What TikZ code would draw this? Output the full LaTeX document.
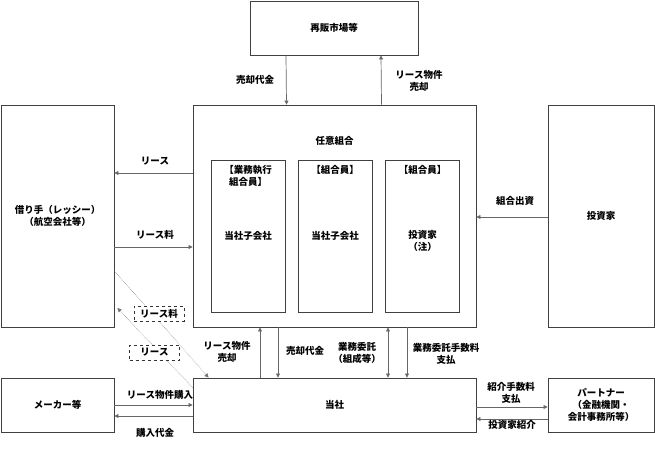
\documentclass[tikz,border=0pt]{standalone}
\usepackage{fontspec}
\setmainfont{Noto Sans CJK JP}
\usetikzlibrary{arrows.meta}

\begin{document}
\begin{tikzpicture}[x=1pt, y=-1pt, font=\fontsize{9.5}{12}\selectfont\bfseries]

  % Define styles
  \tikzstyle{box} = [rectangle, draw=black!75, line width=0.9pt, inner sep=0pt, align=center]
  \tikzstyle{txt} = [align=center, inner sep=1pt]
  \tikzstyle{arr} = [draw=black!60, line width=0.7pt, -{Triangle[length=4pt, width=4pt]}]
  \tikzstyle{dbl} = [draw=black!60, line width=0.7pt, {Triangle[length=4pt, width=4pt]}-{Triangle[length=4pt, width=4pt]}]
  \tikzstyle{dot_arr} = [draw=black!55, densely dotted, line width=0.5pt, -{Triangle[length=4pt, width=4pt]}]
  \tikzstyle{tag} = [rectangle, draw=black!80, dashed, semithick, fill=white, minimum width=50pt, minimum height=15pt, inner sep=0pt]

  \useasboundingbox (0,0) rectangle (655,448);

  % Boxes
  \node[box, minimum width=168pt, minimum height=54pt] (resale) at (334, 28) {再販市場等};
  \node[box, minimum width=283pt, minimum height=222pt] (union) at (334.5, 216) {};
  \node[txt] (union_t) at (334.5, 141) {任意組合};

  \node[box, minimum width=74pt, minimum height=152pt] (gp) at (248, 236) {当社子会社};
  \node[box, minimum width=74pt, minimum height=152pt] (lp1) at (335, 236) {当社子会社};
  \node[box, minimum width=74pt, minimum height=152pt] (lp2) at (422.5, 236) {};
  \node[txt, anchor=north] (gp_t) at ([yshift=-5pt]gp.north) {【業務執行\\組合員】};
  \node[txt, anchor=north] (lp1_t) at ([yshift=-5pt]lp1.north) {【組合員】};
  \node[txt, anchor=north] (lp2_t) at ([yshift=-5pt]lp2.north) {【組合員】};
  \node[txt] (lp2_n) at (422.5, 241) {投資家\\（注）};

  \node[box, minimum width=113pt, minimum height=222pt] (lessee) at (57.5, 216) {借り手（レッシー）\\（航空会社等）};
  \node[box, minimum width=106pt, minimum height=222pt] (investor) at (601, 216) {投資家};
  \node[box, minimum width=113pt, minimum height=54pt] (maker) at (57.5, 405) {メーカー等};
  \node[box, minimum width=283pt, minimum height=54pt] (company) at (334.5, 405) {当社};
  \node[box, minimum width=106pt, minimum height=54pt] (partner) at (601, 405) {パートナー\\（金融機関・\\会計事務所等）};

  % Resale market
  \draw[arr] ([xshift=-48pt]resale.south) -- ([xshift=-48pt]union.north);
  \draw[arr] ([xshift=47pt]union.north) -- ([xshift=47pt]resale.south);
  \node[txt] (sale_pay1) at (255, 80) {売却代金};
  \node[txt] (sale_obj1) at (419, 81) {リース物件\\売却};

  % Lessee
  \draw[arr] ([yshift=43pt]union.west) -- ([yshift=43pt]lessee.east);
  \draw[arr] ([yshift=-31pt]lessee.east) -- ([yshift=-31pt]union.west);
  \node[txt] (lease) at (155, 161) {リース};
  \node[txt] (lease_fee) at (155, 235) {リース料};

  % Investor
  \draw[arr] ([yshift=-1pt]investor.west) -- ([yshift=-1pt]union.east);
  \node[txt] (invest) at (515, 201) {組合出資};

  % Dotted flows
  \draw[dot_arr] ([yshift=-55pt]lessee.east) -- ([xshift=16pt]company.north west);
  \draw[dot_arr] ([yshift=-10pt]company.north west) -- ([xshift=3pt, yshift=-92pt]lessee.east);
  \node[tag] (tag_fee) at (159, 313.5) {リース料};
  \node[tag] (tag_lease) at (154.5, 352.5) {リース};

  % Union and company
  \draw[arr] ([xshift=-74.5pt]company.north) -- ([xshift=-74.5pt]union.south);
  \draw[arr] ([xshift=-56.5pt]union.south) -- ([xshift=-56.5pt]company.north);
  \draw[dbl] ([xshift=53.5pt]union.south) -- ([xshift=53.5pt]company.north);
  \draw[arr] ([xshift=72.5pt]union.south) -- ([xshift=72.5pt]company.north);
  \node[txt] (sale_obj2) at (227, 352) {リース物件\\売却};
  \node[txt] (sale_pay2) at (305, 351) {売却代金};
  \node[txt] (task) at (357, 353) {業務委託\\（組成等）};
  \node[txt] (task_fee) at (446, 354) {業務委託手数料\\支払};

  % Maker
  \draw[arr] (maker.east) -- (company.west);
  \draw[arr] ([yshift=-11pt]company.west) -- ([yshift=-11pt]maker.east);
  \node[txt] (purchase) at (160, 395) {リース物件購入};
  \node[txt] (purchase_pay) at (155, 433) {購入代金};

  % Partner
  \draw[arr] ([yshift=-2pt]company.east) -- ([yshift=-2pt]partner.west);
  \draw[arr] ([yshift=-14pt]partner.west) -- ([yshift=-14pt]company.east);
  \node[txt] (intro_fee) at (511, 393) {紹介手数料\\支払};
  \node[txt] (intro) at (512, 425) {投資家紹介};

\end{tikzpicture}
\end{document}
